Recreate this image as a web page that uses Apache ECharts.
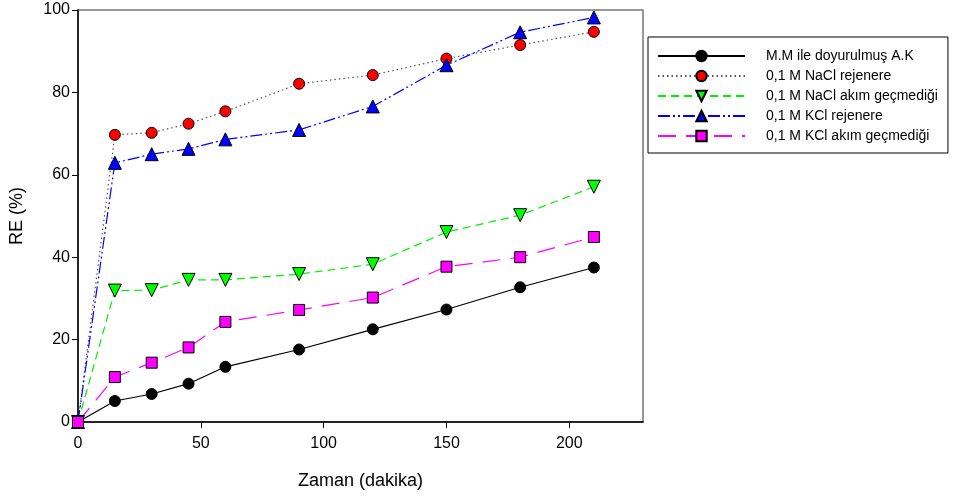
<!DOCTYPE html>
<html><head><meta charset="utf-8">
<script src="https://cdn.jsdelivr.net/npm/echarts@6/dist/echarts.min.js"></script>
<style>html,body{margin:0;padding:0;background:#fff}#c{width:955px;height:500px}</style>
</head><body><div id="c"></div>
<script>
var times = [0, 15, 30, 45, 60, 90, 120, 150, 180, 210];
var seriesNames = ["M.M ile doyurulmuş A.K", "0,1 M NaCl rejenere", "0,1 M NaCl akım geçmediği", "0,1 M KCl rejenere", "0,1 M KCl akım geçmediği"];
var mmAK = [0, 5.1, 6.8, 9.3, 13.4, 17.6, 22.5, 27.3, 32.7, 37.5];
var naclRej = [0, 69.7, 70.2, 72.4, 75.4, 82.1, 84.2, 88.2, 91.5, 94.7];
var naclAkim = [0, 31.9, 32.0, 34.5, 34.5, 35.9, 38.3, 46.1, 50.2, 57.1];
var kclRej = [0, 62.9, 65.0, 66.3, 68.6, 70.9, 76.6, 86.6, 94.6, 98.2];
var kclAkim = [0, 10.9, 14.4, 18.1, 24.3, 27.2, 30.2, 37.7, 40.0, 44.9];
var xTicks = [0, 50, 100, 150, 200];
var yTicks = [0, 20, 40, 60, 80, 100];

function pairs(v){ return times.map(function(t,i){ return [t, v[i]]; }); }
var FONT = 'Liberation Sans, Arial, sans-serif';
function mk(name, data, lineColor, lineType, symbol, fill, size, rotate){
  return {
    name: name, type: 'line', data: pairs(data), z: 3,
    symbol: symbol, symbolSize: size, symbolRotate: rotate || 0,
    showAllSymbol: true,
    lineStyle: {color: lineColor, width: 1.2, type: lineType},
    itemStyle: {color: fill, borderColor: '#000', borderWidth: 1, opacity: 1},
    emphasis: {disabled: true}, animation: false
  };
}
var chart = echarts.init(document.getElementById('c'), null, {renderer: 'canvas'});
chart.setOption({
  animation: false,
  grid: {left: 77, top: 10, right: 312, bottom: 78, show: true, borderColor: '#777', borderWidth: 1.5},
  xAxis: {
    type: 'value', min: 0, max: 230, interval: 50,
    name: 'Zaman (dakika)', nameLocation: 'middle', nameGap: 50,
    nameTextStyle: {fontFamily: FONT, fontSize: 18, color: '#000'},
    axisLine: {show: true, onZero: false, lineStyle: {color: '#000', width: 1.5}},
    axisTick: {show: true, length: 6, inside: false, customValues: xTicks, lineStyle: {color: '#000'}},
    axisLabel: {customValues: xTicks, margin: 14, fontFamily: FONT, fontSize: 16, color: '#000'},
    splitLine: {show: false}
  },
  yAxis: {
    type: 'value', min: 0, max: 100, interval: 20,
    name: 'RE (%)', nameLocation: 'middle', nameGap: 52, nameRotate: 90,
    nameTextStyle: {fontFamily: FONT, fontSize: 18, color: '#000'},
    axisLine: {show: true, onZero: false, lineStyle: {color: '#000', width: 1.5}},
    axisTick: {show: true, length: 6, inside: false, lineStyle: {color: '#000'}},
    axisLabel: {margin: 8, fontFamily: FONT, fontSize: 16, color: '#000'},
    splitLine: {show: false}
  },
  legend: {
    orient: 'vertical', left: 648, top: 37, width: 300,
    padding: [12, 10, 10, 9],
    backgroundColor: '#fff', borderColor: '#000', borderWidth: 1,
    itemWidth: 87, itemHeight: 13, itemGap: 6,
    textStyle: {fontFamily: FONT, fontSize: 14, color: '#000', padding: [0, 30, 0, 16]},
    data: seriesNames
  },
  series: [
    mk(seriesNames[0], mmAK, '#000', 'solid', 'circle', '#000', 11),
    mk(seriesNames[1], naclRej, '#555', [1.5, 3], 'circle', '#ff0000', 11),
    mk(seriesNames[2], naclAkim, '#00ee00', [8, 5], 'triangle', '#00ff00', 13, 180),
    mk(seriesNames[3], kclRej, '#0000ff', [12, 3, 2, 3, 2, 3], 'triangle', '#0000ff', 13),
    mk(seriesNames[4], kclAkim, '#ff00ff', [18, 10], 'rect', '#ff00ff', 11)
  ]
});
</script>
</body></html>
